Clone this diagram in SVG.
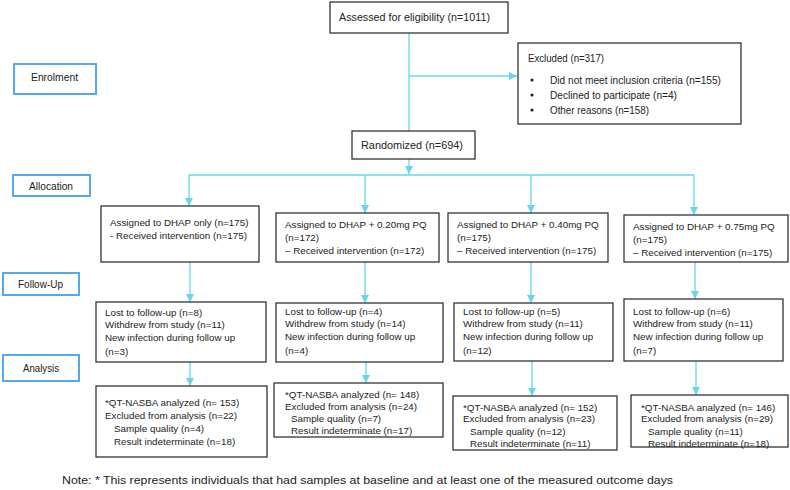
<svg xmlns="http://www.w3.org/2000/svg" width="790" height="490" viewBox="0 0 790 490">
<style>
.bx{fill:#fff;stroke:#333;stroke-width:1.3}
.st{fill:#fff;stroke:#56a8ee;stroke-width:2}
.cn{stroke:#66d6ea;stroke-width:1.3;fill:none}
.c{font-family:"Liberation Sans",Arial,sans-serif;font-size:11px;fill:#222}
.a{font-family:"Liberation Sans",Arial,sans-serif;font-size:9.8px;fill:#222}
</style>
<defs>
<marker id="ah" markerUnits="userSpaceOnUse" markerWidth="9" markerHeight="8" refX="8" refY="4" orient="auto">
<path d="M0,0 L8,4 L0,8 Z" fill="#66d6ea"/>
</marker>
</defs>
<rect width="790" height="490" fill="#fff"/>
<g id="connectors">
<path class="cn" d="M409,33 V131"/>
<path class="cn" d="M409,76 H517" marker-end="url(#ah)"/>
<path class="cn" d="M409,159 V174" marker-end="url(#ah)"/>
<path class="cn" d="M189,175 H694"/>
<path class="cn" d="M189,175 V206" marker-end="url(#ah)"/>
<path class="cn" d="M365,175 V213" marker-end="url(#ah)"/>
<path class="cn" d="M531,175 V213" marker-end="url(#ah)"/>
<path class="cn" d="M694,175 V215" marker-end="url(#ah)"/>
<path class="cn" d="M190,262 V302" marker-end="url(#ah)"/>
<path class="cn" d="M365,262 V303" marker-end="url(#ah)"/>
<path class="cn" d="M531,262 V303" marker-end="url(#ah)"/>
<path class="cn" d="M695,262 V299" marker-end="url(#ah)"/>
<path class="cn" d="M190,362 V386" marker-end="url(#ah)"/>
<path class="cn" d="M366,362 V383" marker-end="url(#ah)"/>
<path class="cn" d="M532,361 V396" marker-end="url(#ah)"/>
<path class="cn" d="M696,361 V395" marker-end="url(#ah)"/>
</g>
<g id="assessed">
<rect class="bx" x="330" y="2" width="178" height="31"/>
<text class="c" x="339" y="21" textLength="151" lengthAdjust="spacingAndGlyphs">Assessed for eligibility (n=1011)</text>
</g>
<g id="excluded">
<rect class="bx" x="518" y="43" width="223" height="81"/>
<text class="c" x="528" y="62" textLength="76" lengthAdjust="spacingAndGlyphs">Excluded (n=317)</text>
<circle cx="532" cy="80" r="1.6" fill="#222"/>
<circle cx="532" cy="95" r="1.6" fill="#222"/>
<circle cx="532" cy="110" r="1.6" fill="#222"/>
<text class="c" x="550" y="84" textLength="171" lengthAdjust="spacingAndGlyphs">Did not meet inclusion criteria (n=155)</text>
<text class="c" x="550" y="99" textLength="127" lengthAdjust="spacingAndGlyphs">Declined to participate (n=4)</text>
<text class="c" x="550" y="114" textLength="99" lengthAdjust="spacingAndGlyphs">Other reasons (n=158)</text>
</g>
<g id="randomized">
<rect class="bx" x="352" y="131" width="123" height="28"/>
<text class="c" x="361" y="149" textLength="102" lengthAdjust="spacingAndGlyphs">Randomized (n=694)</text>
</g>
<g id="stage-enrolment">
<rect class="st" x="14" y="64" width="82" height="30"/>
<text class="c" x="31" y="81" textLength="47" lengthAdjust="spacingAndGlyphs">Enrolment</text>
</g>
<g id="stage-allocation">
<rect class="st" x="13" y="175" width="77" height="21"/>
<text class="c" x="29" y="190" textLength="44" lengthAdjust="spacingAndGlyphs">Allocation</text>
</g>
<g id="stage-followup">
<rect class="st" x="3" y="273" width="76" height="22"/>
<text class="c" x="18" y="288" textLength="45" lengthAdjust="spacingAndGlyphs">Follow-Up</text>
</g>
<g id="stage-analysis">
<rect class="st" x="3" y="355" width="76" height="26"/>
<text class="c" x="23" y="372" textLength="36" lengthAdjust="spacingAndGlyphs">Analysis</text>
</g>
<g id="assign1">
<rect class="bx" x="101" y="206" width="158" height="56"/>
<text class="a" x="110" y="226">Assigned to DHAP only (n=175)</text>
<text class="a" x="110" y="239">- Received intervention (n=175)</text>
</g>
<g id="assign2">
<rect class="bx" x="276" y="213" width="163" height="49"/>
<text class="a" x="285" y="228">Assigned to DHAP + 0.20mg PQ</text>
<text class="a" x="285" y="241">(n=172)</text>
<text class="a" x="285" y="254">– Received intervention (n=172)</text>
</g>
<g id="assign3">
<rect class="bx" x="448" y="213" width="160" height="49"/>
<text class="a" x="457" y="228">Assigned to DHAP + 0.40mg PQ</text>
<text class="a" x="457" y="241">(n=175)</text>
<text class="a" x="457" y="254">– Received intervention (n=175)</text>
</g>
<g id="assign4">
<rect class="bx" x="624" y="215" width="164" height="47"/>
<text class="a" x="633" y="230">Assigned to DHAP + 0.75mg PQ</text>
<text class="a" x="633" y="243">(n=175)</text>
<text class="a" x="633" y="256">– Received intervention (n=175)</text>
</g>
<g id="follow1">
<rect class="bx" x="96" y="302" width="170" height="60"/>
<text class="a" x="105" y="316">Lost to follow-up (n=8)</text>
<text class="a" x="105" y="328">Withdrew from study (n=11)</text>
<text class="a" x="105" y="341">New infection during follow up</text>
<text class="a" x="105" y="355">(n=3)</text>
</g>
<g id="follow2">
<rect class="bx" x="276" y="303" width="167" height="59"/>
<text class="a" x="285" y="315">Lost to follow-up (n=4)</text>
<text class="a" x="285" y="327">Withdrew from study (n=14)</text>
<text class="a" x="285" y="340">New infection during follow up</text>
<text class="a" x="285" y="354">(n=4)</text>
</g>
<g id="follow3">
<rect class="bx" x="454" y="303" width="159" height="58"/>
<text class="a" x="463" y="315">Lost to follow-up (n=5)</text>
<text class="a" x="463" y="327">Withdrew from study (n=11)</text>
<text class="a" x="463" y="340">New infection during follow up</text>
<text class="a" x="463" y="354">(n=12)</text>
</g>
<g id="follow4">
<rect class="bx" x="624" y="299" width="159" height="62"/>
<text class="a" x="633" y="315">Lost to follow-up (n=6)</text>
<text class="a" x="633" y="327">Withdrew from study (n=11)</text>
<text class="a" x="633" y="340">New infection during follow up</text>
<text class="a" x="633" y="354">(n=7)</text>
</g>
<g id="analysis1">
<rect class="bx" x="96" y="386" width="171" height="71"/>
<text class="a" x="105" y="406">*QT-NASBA analyzed (n= 153)</text>
<text class="a" x="105" y="419">Excluded from analysis (n=22)</text>
<text class="a" x="114" y="432">Sample quality (n=4)</text>
<text class="a" x="114" y="445">Result indeterminate (n=18)</text>
</g>
<g id="analysis2">
<rect class="bx" x="274" y="383" width="169" height="54"/>
<text class="a" x="285" y="398">*QT-NASBA analyzed (n= 148)</text>
<text class="a" x="285" y="410">Excluded from analysis (n=24)</text>
<text class="a" x="291" y="422">Sample quality (n=7)</text>
<text class="a" x="291" y="434">Result indeterminate (n=17)</text>
</g>
<g id="analysis3">
<rect class="bx" x="453" y="396" width="164" height="54"/>
<text class="a" x="463" y="411">*QT-NASBA analyzed (n= 152)</text>
<text class="a" x="463" y="422">Excluded from analysis (n=23)</text>
<text class="a" x="470" y="435">Sample quality (n=12)</text>
<text class="a" x="470" y="447">Result indeterminate (n=11)</text>
</g>
<g id="analysis4">
<rect class="bx" x="631" y="395" width="157" height="52"/>
<text class="a" x="641" y="411">*QT-NASBA analyzed (n= 146)</text>
<text class="a" x="641" y="422">Excluded from analysis (n=29)</text>
<text class="a" x="648" y="435">Sample quality (n=11)</text>
<text class="a" x="648" y="447">Result indeterminate (n=18)</text>
</g>
<g id="note">
<text class="c" x="62" y="484" textLength="611" lengthAdjust="spacingAndGlyphs">Note: * This represents individuals that had samples at baseline and at least one of the measured outcome days</text>
</g>
</svg>
